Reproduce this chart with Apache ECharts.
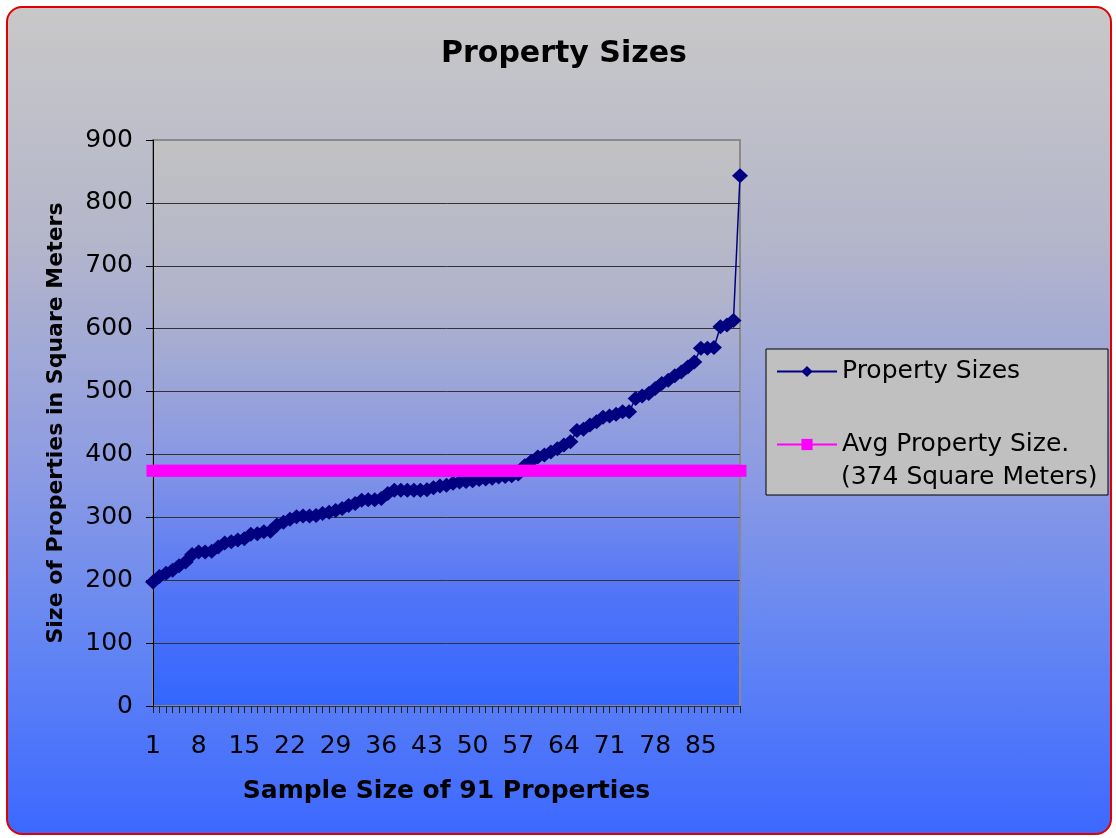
<!DOCTYPE html>
<html>
<head>
<meta charset="utf-8">
<script src="https://cdn.jsdelivr.net/npm/echarts@6/dist/echarts.min.js"></script>
<style>
html,body{margin:0;padding:0;background:#ffffff;}
#bg{position:absolute;left:6px;top:6px;width:1102px;height:825px;border:2px solid #e00000;border-radius:16px;
background:linear-gradient(to bottom,#c8c8c8 0%,#b4b6ca 28%,#8e9ce2 55%,#6184f4 78%,#3c68ff 100%);}
#chart{position:absolute;left:0;top:0;width:1116px;height:838px;}
</style>
</head>
<body>
<div id="bg"></div>
<div id="chart"></div>
<script>
const categories = ['1','2','3','4','5','6','7','8','9','10','11','12','13','14','15','16','17','18','19','20',
'21','22','23','24','25','26','27','28','29','30','31','32','33','34','35','36','37','38','39','40',
'41','42','43','44','45','46','47','48','49','50','51','52','53','54','55','56','57','58','59','60',
'61','62','63','64','65','66','67','68','69','70','71','72','73','74','75','76','77','78','79','80',
'81','82','83','84','85','86','87','88','89','90','91'];

const propertySizes = [197,206,211,216,223,229,241,245,245,246,
253,259,261,264,266,273,274,277,278,288,
292,297,301,302,302,303,306,308,311,314,
319,322,327,328,328,330,338,343,343,343,
343,343,344,347,350,351,354,356,357,358,
360,361,362,364,365,366,369,382,389,396,
399,404,409,415,420,438,440,447,452,459,
461,464,468,468,489,493,497,505,513,518,
525,531,539,547,569,569,570,603,606,613,
843];

const avgPropertySize = [374,374,374,374,374,374,374,374,374,374,
374,374,374,374,374,374,374,374,374,374,
374,374,374,374,374,374,374,374,374,374,
374,374,374,374,374,374,374,374,374,374,
374,374,374,374,374,374,374,374,374,374,
374,374,374,374,374,374,374,374,374,374,
374,374,374,374,374,374,374,374,374,374,
374,374,374,374,374,374,374,374,374,374,
374,374,374,374,374,374,374,374,374,374,
374];

const yMin = 0, yMax = 900, yStep = 100;

const FONT = 'DejaVu Sans';
const chart = echarts.init(document.getElementById('chart'));
chart.setOption({
  animation: false,
  backgroundColor: 'transparent',
  textStyle: { fontFamily: FONT },
  title: {
    text: 'Property Sizes',
    left: 436, top: 34,
    textStyle: { fontFamily: FONT, fontSize: 30, fontWeight: 'bold', color: '#000' }
  },
  grid: {
    left: 153, top: 140, width: 587, height: 566,
    show: true,
    backgroundColor: new echarts.graphic.LinearGradient(0, 0, 0, 1, [
      { offset: 0, color: '#c2c2c2' },
      { offset: 0.29, color: '#b0b3cc' },
      { offset: 0.54, color: '#8b9ae2' },
      { offset: 0.81, color: '#5074f8' },
      { offset: 1, color: '#3366ff' }
    ]),
    borderColor: '#8a8a8a', borderWidth: 2
  },
  legend: {
    orient: 'vertical',
    left: 776, top: 359,
    padding: 0,
    itemWidth: 60, itemHeight: 14, itemGap: 48,
    textStyle: { fontFamily: FONT, fontSize: 25, color: '#000' },
    data: ['Property Sizes', 'Avg Property Size.']
  },
  graphic: [
    { type: 'rect', z: 0, silent: true,
      shape: { x: 766, y: 349, width: 342, height: 146 },
      style: { fill: '#c0c0c0', stroke: '#000', lineWidth: 1 } },
    { type: 'text', z: 5, silent: true, left: 841, top: 465,
      style: { text: '(374 Square Meters)', font: '25px "DejaVu Sans"', fill: '#000' } }
  ],
  xAxis: {
    type: 'category',
    data: categories,
    boundaryGap: false,
    name: 'Sample Size of 91 Properties',
    nameLocation: 'middle',
    nameGap: 73,
    nameTextStyle: { fontFamily: FONT, fontSize: 25, fontWeight: 'bold', color: '#000' },
    axisLine: { show: true, lineStyle: { color: '#333', width: 1 } },
    axisTick: { show: true, interval: 0, length: 7, lineStyle: { color: '#222' } },
    axisLabel: { interval: 6, fontSize: 25, color: '#000', margin: 28 },
    splitLine: { show: false }
  },
  yAxis: {
    type: 'value',
    min: yMin, max: yMax, interval: yStep,
    name: 'Size of Properties in Square Meters',
    nameLocation: 'middle',
    nameGap: 86,
    nameTextStyle: { fontFamily: FONT, fontSize: 22, fontWeight: 'bold', color: '#000' },
    axisLine: { show: true, lineStyle: { color: '#000', width: 1 } },
    axisTick: { show: true, length: 7, lineStyle: { color: '#000' } },
    axisLabel: { fontSize: 25, color: '#000', margin: 20 },
    splitLine: { show: true, lineStyle: { color: ['#333','#333','#333','#333','#333','#333','#333','#333','#333','#8a8a8a'], width: 1 } }
  },
  series: [
    {
      name: 'Property Sizes',
      type: 'line',
      data: propertySizes,
      symbol: 'diamond',
      symbolSize: [16, 15],
      showAllSymbol: true,
      lineStyle: { color: '#000080', width: 1.5 },
      itemStyle: { color: '#000080' },
      z: 3
    },
    {
      name: 'Avg Property Size.',
      type: 'line',
      data: avgPropertySize,
      symbol: 'rect',
      symbolSize: [13, 12],
      showAllSymbol: true,
      lineStyle: { color: '#ff00ff', width: 2 },
      itemStyle: { color: '#ff00ff' },
      z: 4
    }
  ]
});
</script>
</body>
</html>
